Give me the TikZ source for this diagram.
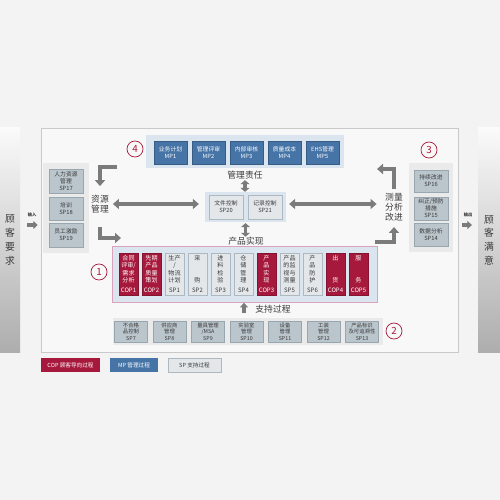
\documentclass[tikz,border=0pt]{standalone}
\usepackage{fontspec}
\setmainfont{Noto Sans CJK SC}
\usetikzlibrary{arrows.meta,positioning,calc}
\definecolor{cop}{HTML}{A6193C}
\definecolor{mp}{HTML}{4674A6}
\definecolor{spfill}{HTML}{BAC5CC}
\definecolor{spdraw}{HTML}{98A6B0}
\definecolor{splight}{HTML}{E3E7EA}
\definecolor{bluepanel}{HTML}{DAE5F0}
\definecolor{greypanel}{HTML}{EAEAEA}
\definecolor{pinkline}{HTML}{D9A3BC}
\definecolor{arrowgrey}{HTML}{7B7B7B}
\definecolor{ink}{HTML}{3A3A3A}
\definecolor{framegrey}{HTML}{C9C9C9}
\definecolor{framefill}{HTML}{F8F8F8}
\definecolor{page}{HTML}{F3F3F3}
\tikzset{
  every node/.style={text=ink,inner sep=0pt},
  box/.style={align=center,font=\fontsize{8.2}{10}\selectfont,minimum width=16.5mm,minimum height=11.5mm},
  mpbox/.style={box,fill=mp,draw=mp!80!black,text=white},
  spbox/.style={box,fill=spfill,draw=spdraw},
  docbox/.style={box,fill=splight,draw=spdraw!80,minimum width=17mm,minimum height=12mm},
  suppbox/.style={box,fill=spfill,draw=spdraw,font=\fontsize{7.6}{9.2}\selectfont,minimum height=10.5mm},
  copcol/.style={align=center,fill=cop,draw=cop!80!black,text=white,minimum width=9.5mm,minimum height=21mm,font=\fontsize{8.6}{10.6}\selectfont},
  spcol/.style={copcol,fill=splight,draw=spdraw!80,text=ink},
  bluepanelbox/.style={fill=bluepanel},
  greypanelbox/.style={fill=greypanel},
  prodpanelbox/.style={fill=bluepanel,draw=pinkline,line width=0.8pt},
  sidebar/.style={minimum width=10mm,minimum height=112mm,top color=page!40!white,bottom color=black!32,align=center,font=\fontsize{14}{19.5}\selectfont},
  biglabel/.style={align=center,font=\fontsize{12.5}{13.5}\selectfont},
  numcircle/.style={circle,draw=cop,line width=1pt,text=cop,minimum size=8mm,font=\fontsize{14}{14}\selectfont},
  legendbox/.style={minimum height=7mm,font=\fontsize{8}{9}\selectfont},
  iolabel/.style={font=\fontsize{6}{6.5}\selectfont\bfseries},
  bigarrow/.style={-{Triangle[length=3mm,width=5mm]},line width=2.2mm,draw=arrowgrey},
  dblarrow/.style={{Triangle[length=3mm,width=5mm]}-{Triangle[length=3mm,width=5mm]},line width=2mm,draw=arrowgrey},
  shortdbl/.style={{Triangle[length=2mm,width=4.5mm]}-{Triangle[length=2mm,width=4.5mm]},line width=1.8mm,draw=arrowgrey},
  smallarrow/.style={-{Triangle[length=2.2mm,width=4mm]},line width=1.8mm,draw=arrowgrey},
}

\begin{document}
\begin{tikzpicture}[x=0.5mm,y=-0.5mm]
  \fill[page] (0,0) rectangle (500,500);
  \useasboundingbox (0,0) rectangle (500,500);

  % customer side bars and frame
  \node[sidebar] (req) at (10,240) {顾\\客\\要\\求};
  \node[sidebar,minimum width=11mm] (sat) at (489,240) {顾\\客\\满\\意};
  \node[draw=framegrey,fill=framefill,line width=0.8pt,minimum width=208.5mm,minimum height=112mm] (frame) at (249.5,240) {};
  \coordinate (io) at (0,225);
  \node[iolabel] (inlab) at (32,215) {输入};
  \node[iolabel] (outlab) at (468,215) {输出};
  \draw[smallarrow,shorten <=3.5mm,shorten >=1.5mm] (req.east |- io) -- (frame.west |- io);
  \draw[smallarrow,shorten <=2mm,shorten >=3mm] (frame.east |- io) -- (sat.west |- io);

  % panels
  \node[greypanelbox,minimum width=23mm,minimum height=45mm] (respanel) at (66,208) {};
  \node[greypanelbox,minimum width=22mm,minimum height=44.5mm] (measpanel) at (431,207.5) {};
  \node[bluepanelbox,minimum width=99mm,minimum height=16.5mm] (mppanel) at (245,151.5) {};
  \node[bluepanelbox,minimum width=40.5mm,minimum height=15mm] (docpanel) at (245.5,207) {};
  \node[prodpanelbox,minimum width=132.5mm,minimum height=28mm] (prodpanel) at (244.5,274) {};
  \node[greypanelbox,minimum width=135mm,minimum height=13.5mm] (supppanel) at (248,331.5) {};

  % management processes
  \node[mpbox] (mp1) at (170.5,152.5) {业务计划\\MP1};
  \node[mpbox] (mp2) at (208.5,152.5) {管理评审\\MP2};
  \node[mpbox] (mp3) at (246.5,152.5) {内部审核\\MP3};
  \node[mpbox] (mp4) at (284.5,152.5) {质量成本\\MP4};
  \node[mpbox] (mp5) at (322.5,152.5) {EHS管理\\MP5};

  % resources
  \node[spbox,minimum width=17mm,minimum height=12mm] (sp17) at (66,181) {人力资源\\管理\\SP17};
  \node[spbox,minimum width=17mm,minimum height=11.5mm] (sp18) at (66,208.5) {培训\\SP18};
  \node[spbox,minimum width=17mm,minimum height=12mm] (sp19) at (66,235) {员工激励\\SP19};

  % measurement
  \node[spbox,minimum width=17mm,minimum height=11mm] (sp16) at (431,181) {持续改进\\SP16};
  \node[spbox,minimum width=17mm,minimum height=11.5mm] (sp15) at (431,208.5) {纠正/预防\\措施\\SP15};
  \node[spbox,minimum width=17mm,minimum height=11.5mm] (sp14) at (431,234.5) {数据分析\\SP14};

  % documents
  \node[docbox] (sp20) at (226,207) {文件控制\\SP20};
  \node[docbox] (sp21) at (265,207) {记录控制\\SP21};

  % product realization
  \node[copcol] (cop1) at (128.5,274) {合同\\评审/\\需求\\分析\\[1.2mm]COP1};
  \node[copcol] (cop2) at (151.5,274) {先期\\产品\\质量\\策划\\[1.2mm]COP2};
  \node[spcol] (sp1) at (174.5,274) {生产\\/\\物流\\计划\\[1.2mm]SP1};
  \node[spcol] (sp2) at (197.5,274) {采\\~\\~\\购\\[1.2mm]SP2};
  \node[spcol] (sp3) at (220.5,274) {进\\料\\检\\验\\[1.2mm]SP3};
  \node[spcol] (sp4) at (243.5,274) {仓\\储\\管\\理\\[1.2mm]SP4};
  \node[copcol] (cop3) at (266.5,274) {产\\品\\实\\现\\[1.2mm]COP3};
  \node[spcol] (sp5) at (289.5,274) {产品\\的监\\视与\\测量\\[1.2mm]SP5};
  \node[spcol] (sp6) at (312.5,274) {产\\品\\防\\护\\[1.2mm]SP6};
  \node[copcol] (cop4) at (335.5,274) {出\\~\\~\\货\\[1.2mm]COP4};
  \node[copcol] (cop5) at (358.5,274) {服\\~\\~\\务\\[1.2mm]COP5};

  % support processes
  \node[suppbox] (sp7) at (131,331.5) {不合格\\品控制\\SP7};
  \node[suppbox] (sp8) at (169.5,331.5) {供应商\\管理\\SP8};
  \node[suppbox] (sp9) at (208,331.5) {量具管理\\/MSA\\SP9};
  \node[suppbox] (sp10) at (246.5,331.5) {实验室\\管理\\SP10};
  \node[suppbox] (sp11) at (285,331.5) {设备\\管理\\SP11};
  \node[suppbox] (sp12) at (323.5,331.5) {工装\\管理\\SP12};
  \node[suppbox] (sp13) at (362,331.5) {产品标识\\及可追溯性\\SP13};

  % labels
  \node[biglabel,inner sep=2mm] (res) at (100,204) {资源\\管理};
  \node[biglabel,inner sep=2mm,font=\fontsize{12.5}{14}\selectfont] (meas) at (394,207) {测量\\分析\\改进};
  \node[biglabel] (resp) at (245,175) {管理责任};
  \node[biglabel] (prod) at (246,241) {产品实现};
  \node[biglabel] (supp) at (273,309) {支持过程};

  \node[numcircle] (n4) at (135,149) {4};
  \node[numcircle] (n1) at (99,272) {1};
  \node[numcircle] (n3) at (429,150) {3};
  \node[numcircle] (n2) at (394,331) {2};

  % process loop
  \coordinate (tl) at (117,167);
  \coordinate (bl) at (121,238);
  \coordinate (tr) at (377,169);
  \coordinate (br) at (375,242);
  \coordinate (supx) at (244,0);
  \draw[bigarrow,shorten >=2.5mm] (tl) -| (res.north);
  \draw[bigarrow,shorten <=5mm] (res.south) |- (bl);
  \draw[bigarrow] (meas.north) |- (tr);
  \draw[bigarrow,shorten >=1mm] (br) -| (meas.south);
  \draw[dblarrow,shorten >=3mm] (res.east) -- (res.east -| docpanel.west);
  \draw[dblarrow,shorten <=1.5mm,shorten >=2.25mm] (docpanel.east |- res.east) -- (meas.west |- res.east);
  \draw[shortdbl,shorten <=0.5mm] (resp.south) -- (resp.south |- docpanel.north);
  \draw[shortdbl,shorten <=0.5mm] (docpanel.south) -- (docpanel.south |- prod.north);
  \draw[smallarrow,shorten <=2.5mm,shorten >=0.3mm] (supppanel.north -| supx) -- (prodpanel.south -| supx);

  % legend
  \node[legendbox,fill=cop,text=white,minimum width=29.5mm] (legcop) at (70.5,365) {COP 顾客导向过程};
  \node[legendbox,fill=mp,text=white,minimum width=24mm] (legmp) at (134,365) {MP 管理过程};
  \node[legendbox,fill=splight,draw=spdraw!80,minimum width=26.5mm] (legsp) at (194.5,365) {SP 支持过程};
\end{tikzpicture}
\end{document}
